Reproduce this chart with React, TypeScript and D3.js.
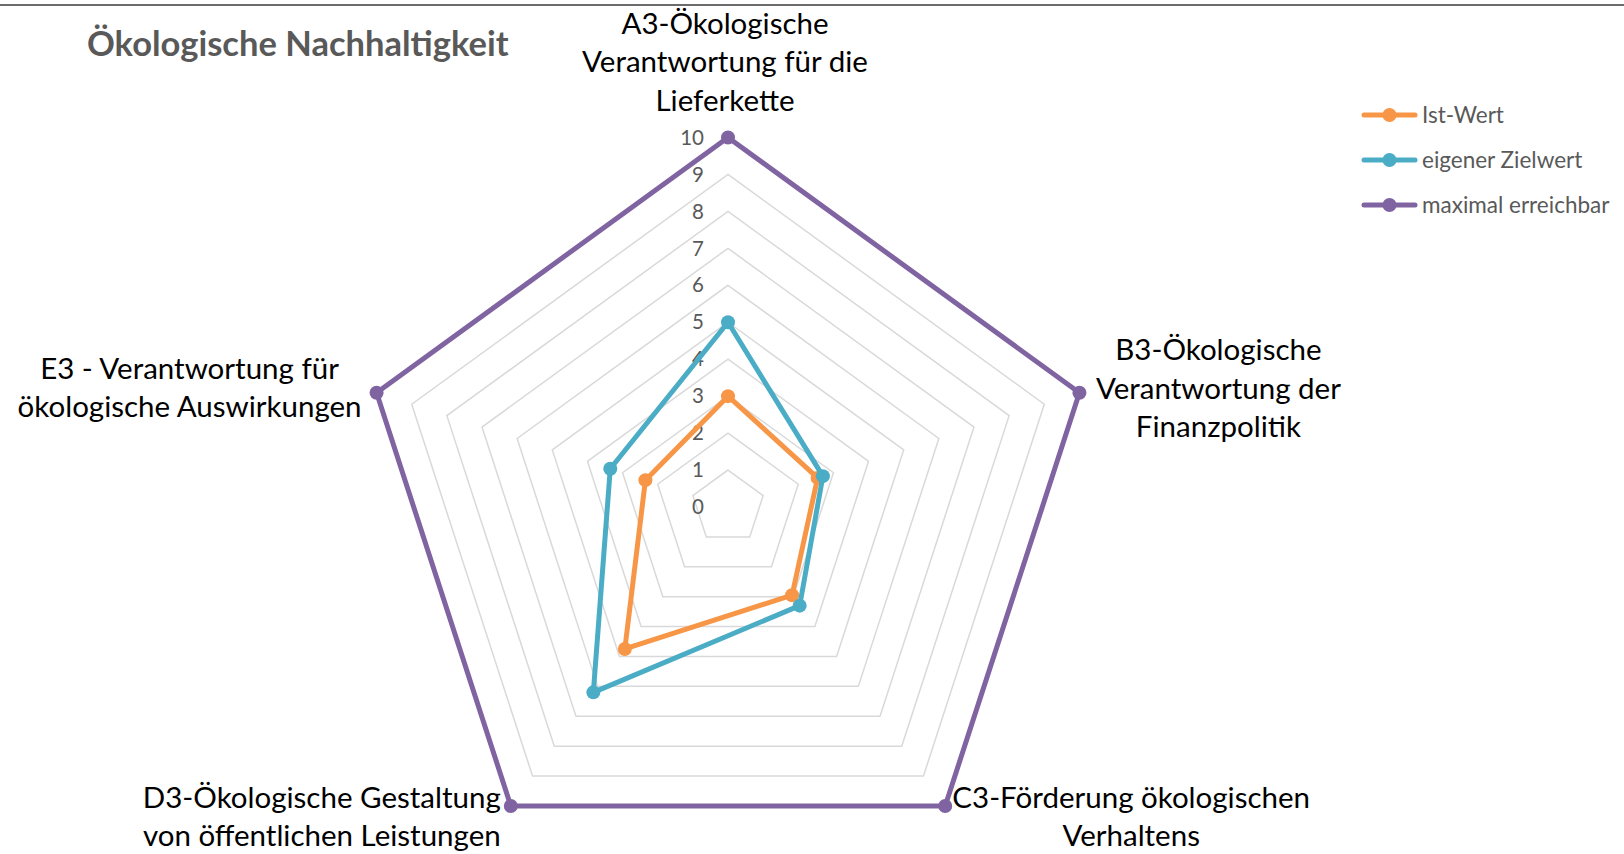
import React from 'react';
import * as d3 from 'd3';

// chart data
const axes = [
  ['A3-Ökologische', 'Verantwortung für die', 'Lieferkette'],
  ['B3-Ökologische', 'Verantwortung der', 'Finanzpolitik'],
  ['C3-Förderung ökologischen', 'Verhaltens'],
  ['D3-Ökologische Gestaltung', 'von öffentlichen Leistungen'],
  ['E3 - Verantwortung für', 'ökologische Auswirkungen'],
];
const istWert = [3, 2.55, 2.95, 4.75, 2.35];
const zielWert = [5, 2.7, 3.3, 6.2, 3.35];
const maxWert = [10, 10, 10, 10, 10];
const ticks = [0, 1, 2, 3, 4, 5, 6, 7, 8, 9, 10];

const series = [
  { name: 'Ist-Wert', values: istWert, color: '#F79646' },
  { name: 'eigener Zielwert', values: zielWert, color: '#4BACC6' },
  { name: 'maximal erreichbar', values: maxWert, color: '#8064A2' },
];

const W = 1624;
const H = 854;
const cx = 728;
const cy = 507;
const R = 369.5;
const FONT = 'Lato, "Noto Sans", sans-serif';

export default function App() {
  const r = d3.scaleLinear().domain([0, 10]).range([0, R]);
  const angle = (i: number) => (i * 2 * Math.PI) / axes.length;
  const pt = (i: number, v: number): [number, number] => [
    cx + r(v) * Math.sin(angle(i)),
    cy - r(v) * Math.cos(angle(i)),
  ];

  const radial = d3
    .lineRadial<number>()
    .angle((_, i) => angle(i))
    .radius((d) => r(d))
    .curve(d3.curveLinearClosed);

  // where each axis label block sits, relative to its outer vertex
  const labelLayout = (i: number) => {
    const [vx, vy] = pt(i, 10);
    const n = axes[i].length;
    const lh = 38.5;
    if (i === 0) return { x: vx - 3, y: vy - 37 - (n - 1) * lh, anchor: 'middle' };
    if (i === 1) return { x: vx + 139, y: vy - 43, anchor: 'middle' };
    if (i === 2) return { x: vx + 186, y: vy - 8.5, anchor: 'middle' };
    if (i === 3) return { x: vx - 189, y: vy - 8.5, anchor: 'middle' };
    return { x: vx - 187, y: vy - 24.5, anchor: 'middle' };
  };

  return (
    <svg
      width={W}
      height={H}
      style={{ position: 'absolute', left: 0, top: 0, background: '#fff' }}
      fontFamily={FONT}
    >
      <line x1={0} x2={W} y1={5} y2={5} stroke="#3a3a3a" strokeWidth={1.5} />

      <text x={87} y={43.5} dy="0.35em" fontSize={34.5} fontWeight="bold" fill="#595959">
        Ökologische Nachhaltigkeit
      </text>

      {/* grid */}
      <g transform={`translate(${cx},${cy})`}>
        {ticks.slice(1).map((t) => (
          <path
            key={t}
            d={radial(axes.map(() => t)) || ''}
            fill="none"
            stroke="#d9d9d9"
            strokeWidth={1.5}
          />
        ))}
      </g>

      {/* tick labels */}
      {ticks.map((t) => (
        <text
          key={t}
          x={cx - 24}
          y={cy - r(t)}
          dy="0.35em"
          textAnchor="end"
          fontSize={20.5}
          fill="#595959"
        >
          {t}
        </text>
      ))}

      {/* series */}
      {series.map((s) => (
        <g key={s.name}>
          <path
            transform={`translate(${cx},${cy})`}
            d={radial(s.values) || ''}
            fill="none"
            stroke={s.color}
            strokeWidth={5}
            strokeLinejoin="round"
          />
          {s.values.map((v, i) => {
            const [x, y] = pt(i, v);
            return <circle key={i} cx={x} cy={y} r={7} fill={s.color} />;
          })}
        </g>
      ))}

      {/* axis labels */}
      {axes.map((lines, i) => {
        const l = labelLayout(i);
        return (
          <text key={i} fontSize={29.5} fill="#000" textAnchor={l.anchor}>
            {lines.map((ln, j) => (
              <tspan key={j} x={l.x} y={l.y + j * 38.5} dy="0.35em">
                {ln}
              </tspan>
            ))}
          </text>
        );
      })}

      {/* legend */}
      {series.map((s, i) => {
        const y = 115 + i * 45;
        return (
          <g key={s.name}>
            <line x1={1364} x2={1415} y1={y} y2={y} stroke={s.color} strokeWidth={5} strokeLinecap="round" />
            <circle cx={1389.5} cy={y} r={7} fill={s.color} />
            <text x={1422} y={y} dy="0.35em" fontSize={22.5} fill="#595959">
              {s.name}
            </text>
          </g>
        );
      })}
    </svg>
  );
}
